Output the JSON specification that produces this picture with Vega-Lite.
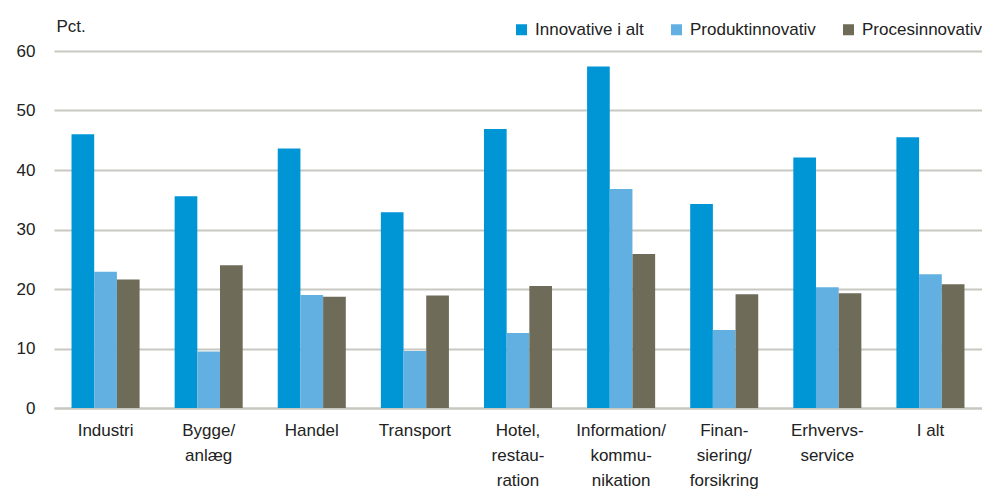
{
  "$schema": "https://vega.github.io/schema/vega-lite/v6.json",
  "autosize": "none",
  "width": 928,
  "height": 357,
  "padding": {"left": 54, "top": 51, "right": 0, "bottom": 84},
  "background": "white",
  "config": {
    "view": {"stroke": null},
    "font": "Liberation Sans"
  },
  "data": {
    "values": [
      {"sektor": "Industri", "type": "Innovative i alt", "value": 46.0},
      {"sektor": "Industri", "type": "Produktinnovativ", "value": 22.9},
      {"sektor": "Industri", "type": "Procesinnovativ", "value": 21.6},
      {"sektor": "Bygge/|anlæg", "type": "Innovative i alt", "value": 35.6},
      {"sektor": "Bygge/|anlæg", "type": "Produktinnovativ", "value": 9.5},
      {"sektor": "Bygge/|anlæg", "type": "Procesinnovativ", "value": 24.0},
      {"sektor": "Handel", "type": "Innovative i alt", "value": 43.6},
      {"sektor": "Handel", "type": "Produktinnovativ", "value": 19.0},
      {"sektor": "Handel", "type": "Procesinnovativ", "value": 18.7},
      {"sektor": "Transport", "type": "Innovative i alt", "value": 32.9},
      {"sektor": "Transport", "type": "Produktinnovativ", "value": 9.6},
      {"sektor": "Transport", "type": "Procesinnovativ", "value": 18.9},
      {"sektor": "Hotel,|restau-|ration", "type": "Innovative i alt", "value": 46.9},
      {"sektor": "Hotel,|restau-|ration", "type": "Produktinnovativ", "value": 12.6},
      {"sektor": "Hotel,|restau-|ration", "type": "Procesinnovativ", "value": 20.5},
      {"sektor": "Information/|kommu-|nikation", "type": "Innovative i alt", "value": 57.4},
      {"sektor": "Information/|kommu-|nikation", "type": "Produktinnovativ", "value": 36.8},
      {"sektor": "Information/|kommu-|nikation", "type": "Procesinnovativ", "value": 25.9},
      {"sektor": "Finan-|siering/|forsikring", "type": "Innovative i alt", "value": 34.3},
      {"sektor": "Finan-|siering/|forsikring", "type": "Produktinnovativ", "value": 13.1},
      {"sektor": "Finan-|siering/|forsikring", "type": "Procesinnovativ", "value": 19.1},
      {"sektor": "Erhvervs-|service", "type": "Innovative i alt", "value": 42.1},
      {"sektor": "Erhvervs-|service", "type": "Produktinnovativ", "value": 20.3},
      {"sektor": "Erhvervs-|service", "type": "Procesinnovativ", "value": 19.3},
      {"sektor": "I alt", "type": "Innovative i alt", "value": 45.5},
      {"sektor": "I alt", "type": "Produktinnovativ", "value": 22.5},
      {"sektor": "I alt", "type": "Procesinnovativ", "value": 20.8}
    ]
  },
  "mark": {"type": "bar"},
  "encoding": {
    "x": {
      "field": "sektor",
      "type": "nominal",
      "sort": null,
      "scale": {"paddingInner": 0.34, "paddingOuter": 0.17},
      "axis": {
        "title": null,
        "labelAngle": 0,
        "labelExpr": "split(datum.label, '|')",
        "labelFontSize": 17,
        "labelColor": "#222222",
        "labelLineHeight": 25,
        "labelPadding": 14,
        "labelBaseline": "top",
        "ticks": false,
        "domain": true,
        "domainColor": "#c8c8c0",
        "domainWidth": 2
      }
    },
    "xOffset": {"field": "type", "type": "nominal", "sort": ["Innovative i alt", "Produktinnovativ", "Procesinnovativ"], "scale": {"paddingInner": 0, "paddingOuter": 0}},
    "y": {
      "field": "value",
      "type": "quantitative",
      "scale": {"domain": [0, 60]},
      "axis": {
        "title": "Pct.",
        "titleAngle": 0,
        "titleX": 2,
        "titleY": -20,
        "titleAlign": "left",
        "titleBaseline": "alphabetic",
        "titleFontSize": 17,
        "titleFontWeight": "normal",
        "titleColor": "#222222",
        "values": [0, 10, 20, 30, 40, 50, 60],
        "labelFontSize": 17,
        "labelColor": "#222222",
        "labelPadding": 19,
        "ticks": false,
        "domain": false,
        "grid": true,
        "gridColor": "#c8c8c0",
        "gridWidth": 2
      }
    },
    "color": {
      "field": "type",
      "type": "nominal",
      "sort": ["Innovative i alt", "Produktinnovativ", "Procesinnovativ"],
      "scale": {"domain": ["Innovative i alt", "Produktinnovativ", "Procesinnovativ"], "range": ["#0096D6", "#62B0E2", "#6E6B58"]},
      "legend": {
        "title": null,
        "orient": "none",
        "direction": "horizontal",
        "legendX": 459,
        "legendY": -30,
        "symbolType": "square",
        "symbolSize": 121,
        "symbolStrokeWidth": 0,
        "labelFontSize": 17,
        "labelColor": "#222222",
        "labelOffset": 5,
        "columnPadding": 24,
        "labelLimit": 300
      }
    }
  }
}
